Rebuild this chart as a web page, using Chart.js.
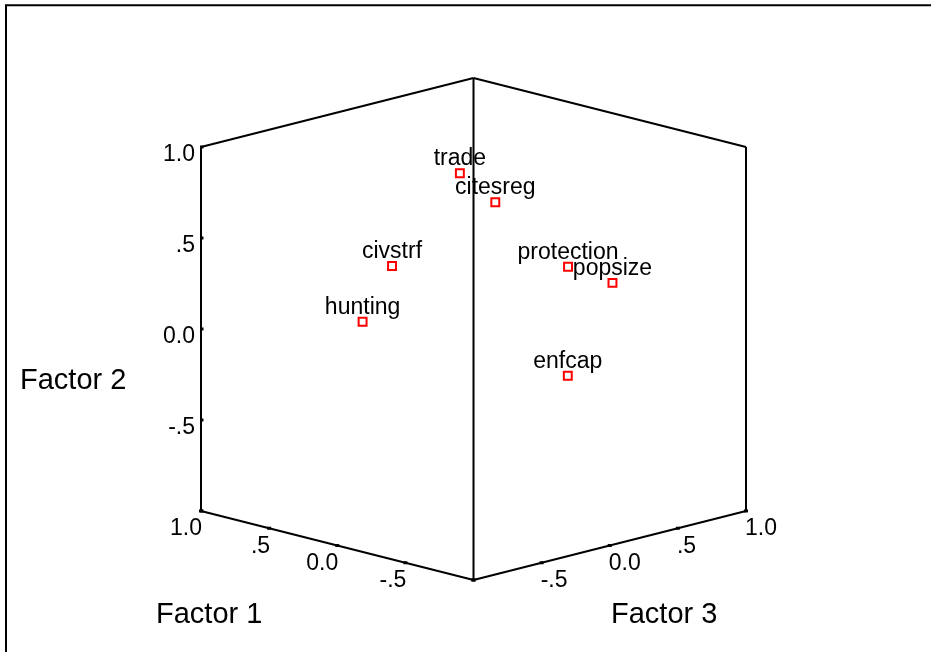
<!DOCTYPE html>
<html><head><meta charset="utf-8">
<style>html,body{margin:0;padding:0;background:#fff;overflow:hidden}canvas{display:block}</style>
<script src="https://cdn.jsdelivr.net/npm/chart.js@4"></script>
</head><body>
<canvas id="c" width="931" height="652"></canvas>
<script>
// ---- data (factor loadings) ----
const variables = ['trade', 'citesreg', 'civstrf', 'protection', 'popsize', 'hunting', 'enfcap'];
const factor1 = [0.10, 0.00, 0.50, -0.10, -0.32, 0.60, -0.20];
const factor2 = [0.872, 0.718, 0.375, 0.377, 0.273, 0.043, -0.272];
const factor3 = [0.00, 0.16, -0.098, 0.594, 0.70, -0.214, 0.492];
const tickValues = [1.0, 0.5, 0.0, -0.5, -1.0];
const tickLabels = ['1.0', '.5', '0.0', '-.5', ''];
const axisTitles = ['Factor 1', 'Factor 2', 'Factor 3'];

// ---- projection of the loading cube [-1,1]^3 onto the plane ----
const DEPTH = 0.275;
function project(f1, f2, f3) {
  const a = (f1 + 1) / 2, c = (f3 + 1) / 2;
  return { x: c - a, y: f2 * (1 - DEPTH * (a + c)) };
}

const cubeEdges = [
  [[-1, -1, -1], [-1, 1, -1]],
  [[1, -1, -1], [1, 1, -1]],
  [[-1, -1, 1], [-1, 1, 1]],
  [[-1, 1, -1], [1, 1, -1]],
  [[-1, 1, -1], [-1, 1, 1]],
  [[-1, -1, -1], [1, -1, -1]],
  [[-1, -1, -1], [-1, -1, 1]]
];

const FONT = '"Liberation Sans", Arial, Helvetica, sans-serif';

const datasets = [{
  label: 'loadings',
  data: variables.map((v, i) => project(factor1[i], factor2[i], factor3[i])),
  pointStyle: 'rect',
  pointRadius: 5.6,
  pointHoverRadius: 5.6,
  borderColor: '#ff0000',
  backgroundColor: 'rgba(0,0,0,0)',
  borderWidth: 2,
  showLine: false,
  order: 0,
  clip: false
}];
cubeEdges.forEach((e, k) => {
  datasets.push({
    label: 'edge' + k,
    data: e.map(p => project(p[0], p[1], p[2])),
    showLine: true,
    pointRadius: 0,
    borderColor: '#000',
    borderWidth: 2,
    fill: false,
    order: 1,
    clip: false
  });
});

const annotate = {
  id: 'annotate',
  afterDraw(chart) {
    const ctx = chart.ctx, xs = chart.scales.x, ys = chart.scales.y;
    const px = p => ({ x: xs.getPixelForValue(p.x), y: ys.getPixelForValue(p.y) });
    ctx.save();
    // frame
    ctx.strokeStyle = '#000'; ctx.lineWidth = 2;
    ctx.beginPath(); ctx.moveTo(6, 652); ctx.lineTo(6, 5.3); ctx.lineTo(931, 5.3); ctx.stroke();

    ctx.fillStyle = '#000';
    ctx.font = '23px ' + FONT;
    // Factor 2 ticks (left vertical edge)
    tickValues.forEach((v, i) => {
      const p = px(project(1, v, -1));
      ctx.fillRect(p.x - 1, p.y - 1.5, 3.5, 3);
      if (tickLabels[i]) {
        ctx.textAlign = 'right'; ctx.textBaseline = 'middle';
        ctx.fillText(tickLabels[i], p.x - 6, p.y + 8);
      }
    });
    // Factor 1 ticks (bottom-left edge)
    tickValues.forEach((v, i) => {
      const p = px(project(v, -1, -1));
      ctx.fillRect(p.x - 2, p.y - 1.5, 4, 3);
      if (tickLabels[i]) {
        ctx.textAlign = 'right'; ctx.textBaseline = 'middle';
        ctx.fillText(tickLabels[i], p.x + 1, p.y + 18);
      }
    });
    // Factor 3 ticks (bottom-right edge)
    tickValues.forEach((v, i) => {
      const p = px(project(-1, -1, v));
      ctx.fillRect(p.x - 2, p.y - 1.5, 4, 3);
      if (tickLabels[i]) {
        ctx.textAlign = 'left'; ctx.textBaseline = 'middle';
        ctx.fillText(tickLabels[i], p.x - 1, p.y + 18);
      }
    });
    // point labels
    ctx.textAlign = 'center'; ctx.textBaseline = 'alphabetic';
    variables.forEach((name, i) => {
      const p = px(project(factor1[i], factor2[i], factor3[i]));
      ctx.fillText(name, p.x, p.y - 8);
    });
    // axis titles
    ctx.font = '29px ' + FONT;
    ctx.textAlign = 'left'; ctx.textBaseline = 'alphabetic';
    ctx.fillText(axisTitles[1], 20, 389);
    ctx.fillText(axisTitles[0], 156, 623);
    ctx.fillText(axisTitles[2], 611, 623);
    ctx.restore();
  }
};

new Chart(document.getElementById('c'), {
  type: 'scatter',
  data: { datasets },
  options: {
    responsive: false,
    animation: false,
    devicePixelRatio: 1,
    layout: { padding: { left: 201, right: 185, top: 78, bottom: 72 } },
    plugins: { legend: { display: false }, tooltip: { enabled: false } },
    events: [],
    scales: {
      x: { type: 'linear', min: -1, max: 1, display: false },
      y: { type: 'linear', min: -1, max: 1, display: false }
    }
  },
  plugins: [annotate]
});
</script>
</body></html>
